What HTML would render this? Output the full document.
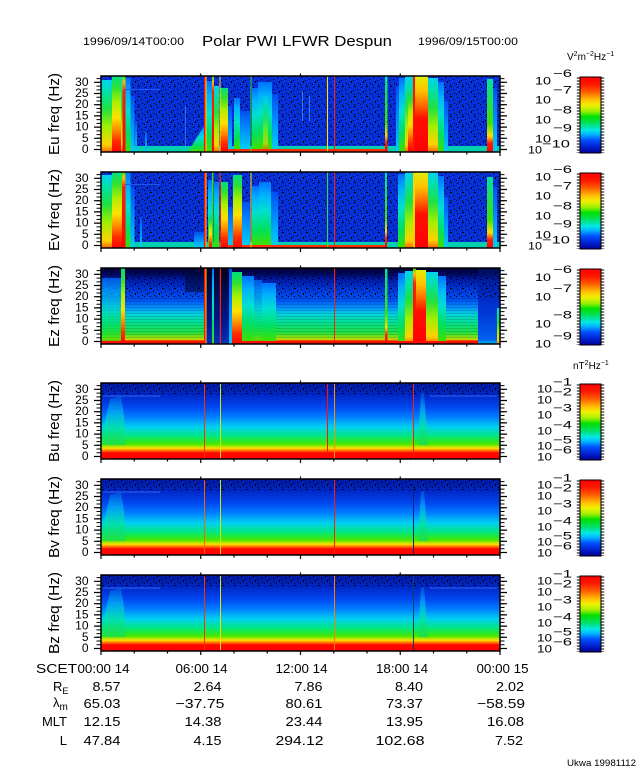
<!DOCTYPE html>
<html><head><meta charset="utf-8"><style>
html,body{margin:0;padding:0;background:#fff;}
svg{display:block;}
text{font-family:"Liberation Sans",Arial,sans-serif;fill:#000;}
</style></head><body>
<svg width="640" height="768" viewBox="0 0 640 768" xmlns="http://www.w3.org/2000/svg">
<defs>
<linearGradient id="gHot" x1="0" y1="1" x2="0" y2="0"><stop offset="0" stop-color="#ff0000"/><stop offset="0.15" stop-color="#ff3000"/><stop offset="0.3" stop-color="#ff9000"/><stop offset="0.45" stop-color="#ffe000"/><stop offset="0.65" stop-color="#b0f000"/><stop offset="0.85" stop-color="#30e030"/><stop offset="1" stop-color="#00e080"/></linearGradient>
<linearGradient id="gHot2" x1="0" y1="1" x2="0" y2="0"><stop offset="0" stop-color="#ff0000"/><stop offset="0.45" stop-color="#ff1000"/><stop offset="0.6" stop-color="#ff6000"/><stop offset="0.8" stop-color="#ffc000"/><stop offset="1" stop-color="#e0f000"/></linearGradient>
<linearGradient id="gWarm" x1="0" y1="1" x2="0" y2="0"><stop offset="0" stop-color="#ff6000"/><stop offset="0.1" stop-color="#ffd000"/><stop offset="0.35" stop-color="#a0f000"/><stop offset="0.6" stop-color="#20e040"/><stop offset="0.85" stop-color="#00e0b0"/><stop offset="1" stop-color="#00d0f0"/></linearGradient>
<linearGradient id="gCool" x1="0" y1="1" x2="0" y2="0"><stop offset="0" stop-color="#40e000"/><stop offset="0.25" stop-color="#00e060"/><stop offset="0.55" stop-color="#00e0d0"/><stop offset="0.8" stop-color="#00b0ff"/><stop offset="1" stop-color="#0070ff"/></linearGradient>
<linearGradient id="gFaint" x1="0" y1="1" x2="0" y2="0"><stop offset="0" stop-color="#00d0f0"/><stop offset="0.5" stop-color="#0090ff"/><stop offset="1" stop-color="#0050f0"/></linearGradient>
<linearGradient id="gLineG" x1="0" y1="1" x2="0" y2="0"><stop offset="0" stop-color="#ff0000"/><stop offset="0.12" stop-color="#ff2000"/><stop offset="0.22" stop-color="#ffe000"/><stop offset="0.4" stop-color="#40e000"/><stop offset="1" stop-color="#00e0a0"/></linearGradient>
<linearGradient id="gRedL" x1="0" y1="1" x2="0" y2="0"><stop offset="0" stop-color="#ff0000"/><stop offset="0.8" stop-color="#ff2000"/><stop offset="0.92" stop-color="#ffc000"/><stop offset="1" stop-color="#40e000"/></linearGradient>
<linearGradient id="gB" x1="0" y1="1" x2="0" y2="0"><stop offset="0" stop-color="#ff0000"/><stop offset="0.08" stop-color="#ff0800"/><stop offset="0.11" stop-color="#ff7000"/><stop offset="0.14" stop-color="#ffe000"/><stop offset="0.2" stop-color="#40e800"/><stop offset="0.3" stop-color="#00e880"/><stop offset="0.42" stop-color="#00d0f0"/><stop offset="0.55" stop-color="#0080ff"/><stop offset="0.68" stop-color="#0048f0"/><stop offset="0.84" stop-color="#0028c8"/><stop offset="1" stop-color="#0018a0"/></linearGradient>
<linearGradient id="gBump" x1="0" y1="1" x2="0" y2="0"><stop offset="0" stop-color="#20e040" stop-opacity="0.9"/><stop offset="0.35" stop-color="#00e0a0" stop-opacity="0.8"/><stop offset="0.7" stop-color="#00c8f0" stop-opacity="0.6"/><stop offset="1" stop-color="#0090ff" stop-opacity="0.3"/></linearGradient>
<linearGradient id="gEz" x1="0" y1="1" x2="0" y2="0"><stop offset="0" stop-color="#ff0000"/><stop offset="0.04" stop-color="#ff2000"/><stop offset="0.06" stop-color="#c0e000"/><stop offset="0.15" stop-color="#20e040"/><stop offset="0.3" stop-color="#00e0a0"/><stop offset="0.4" stop-color="#00d0e0"/><stop offset="0.48" stop-color="#0090ff"/><stop offset="0.58" stop-color="#0050f0"/><stop offset="0.75" stop-color="#0030d0"/><stop offset="0.86" stop-color="#0018a0"/><stop offset="0.92" stop-color="#000860"/><stop offset="1" stop-color="#000030"/></linearGradient>
<linearGradient id="gEzR" x1="0" y1="1" x2="0" y2="0"><stop offset="0" stop-color="#00c0f0"/><stop offset="0.06" stop-color="#0060f0"/><stop offset="0.4" stop-color="#0038d8"/><stop offset="0.8" stop-color="#0020b0"/><stop offset="1" stop-color="#000850"/></linearGradient>
<linearGradient id="gDark" x1="0" y1="1" x2="0" y2="0"><stop offset="0" stop-color="#0030c0"/><stop offset="0.3" stop-color="#001890"/><stop offset="1" stop-color="#000020"/></linearGradient>
<linearGradient id="gCbar" x1="0" y1="0" x2="0" y2="1"><stop offset="0" stop-color="#ff0000"/><stop offset="0.1" stop-color="#ff1800"/><stop offset="0.2" stop-color="#ff6000"/><stop offset="0.3" stop-color="#ffc000"/><stop offset="0.37" stop-color="#f0f000"/><stop offset="0.45" stop-color="#a0f000"/><stop offset="0.52" stop-color="#00e000"/><stop offset="0.62" stop-color="#00e070"/><stop offset="0.7" stop-color="#00e8e8"/><stop offset="0.76" stop-color="#00b0ff"/><stop offset="0.83" stop-color="#0050ff"/><stop offset="0.92" stop-color="#0020d0"/><stop offset="1" stop-color="#000090"/></linearGradient>
<pattern id="spk" width="12" height="10" patternUnits="userSpaceOnUse">
<rect x="1" y="1" width="1" height="1"/><rect x="6" y="0" width="2" height="1"/><rect x="9" y="3" width="1" height="1"/><rect x="3" y="5" width="1" height="2"/><rect x="10" y="7" width="1" height="1"/><rect x="6" y="8" width="1" height="1"/><rect x="0" y="8" width="1" height="1"/><rect x="5" y="4" width="1" height="1"/>
</pattern>
<pattern id="hstr" width="6" height="3" patternUnits="userSpaceOnUse"><rect x="0" y="0" width="6" height="1" fill="#000" opacity="0.14"/></pattern>
<g id="ax">
<rect x="101" y="0" width="399" height="76" fill="none" stroke="#000" stroke-width="1.5"/>
<line x1="98.5" y1="2.13" x2="98.5" y2="76" stroke="#000" stroke-width="4" stroke-dasharray="1 2.73"/>
<line x1="502.5" y1="2.13" x2="502.5" y2="76" stroke="#000" stroke-width="4" stroke-dasharray="1 2.73"/>
<path d="M94 73.5H101M94 62.3H101M94 51.1H101M94 39.9H101M94 28.7H101M94 17.5H101M94 6.3H101M500 73.5H507M500 62.3H507M500 51.1H507M500 39.9H507M500 28.7H507M500 17.5H507M500 6.3H507" stroke="#000" stroke-width="1.2" fill="none"/>
<path d="M101 76V80M134.25 76V78.5M167.5 76V78.5M200.75 76V80M234 76V78.5M267.25 76V78.5M300.5 76V80M333.75 76V78.5M367 76V78.5M400.25 76V80M433.5 76V78.5M466.75 76V78.5M500 76V80M200.75 0V-2.5M300.5 0V-2.5M400.25 0V-2.5" stroke="#000" stroke-width="1.2" fill="none"/>
</g>
<g id="cb">
<rect x="580" y="1" width="21" height="76" fill="url(#gCbar)" stroke="#000" stroke-width="1"/>
<line x1="578.3" y1="1.5" x2="578.3" y2="77" stroke="#000" stroke-width="3" stroke-dasharray="1 2"/>
<line x1="602.7" y1="1.5" x2="602.7" y2="77" stroke="#000" stroke-width="3" stroke-dasharray="1 2"/>
</g>
</defs>

<!-- Header -->
<text x="83" y="45" font-size="11" textLength="101" lengthAdjust="spacingAndGlyphs">1996/09/14T00:00</text>
<text x="202" y="46" font-size="15" textLength="190" lengthAdjust="spacingAndGlyphs">Polar PWI LFWR Despun</text>
<text x="418" y="45" font-size="11" textLength="100" lengthAdjust="spacingAndGlyphs">1996/09/15T00:00</text>
<text x="567" y="60" font-size="10">V<tspan font-size="7" dy="-4">2</tspan><tspan dy="4">m</tspan><tspan font-size="7" dy="-4">−2</tspan><tspan dy="4">Hz</tspan><tspan font-size="7" dy="-4">−1</tspan></text>
<text x="573" y="369" font-size="10">nT<tspan font-size="7" dy="-4">2</tspan><tspan dy="4">Hz</tspan><tspan font-size="7" dy="-4">−1</tspan></text>

<!-- ===== Eu panel ===== -->
<g transform="translate(0,76)">
<rect x="101" y="0" width="399" height="76" fill="#0830d8"/>
<rect x="101" y="0" width="399" height="76" fill="url(#spk)"/>
<rect x="101" y="70" width="399" height="6" fill="#00d0b0"/>
<rect x="228" y="73" width="157" height="3" fill="#ff3000"/>
<rect x="101" y="4" width="11" height="72" fill="url(#gWarm)"/>
<rect x="112" y="0" width="9" height="76" fill="url(#gHot)"/>
<rect x="121" y="0" width="2" height="76" fill="url(#gWarm)"/>
<rect x="122.5" y="0" width="3" height="76" fill="url(#gRedL)"/>
<rect x="125.5" y="2" width="5" height="74" fill="url(#gCool)"/>
<rect x="130.5" y="20" width="4" height="56" fill="url(#gFaint)"/>
<rect x="135" y="45" width="2" height="31" fill="url(#gFaint)"/>
<rect x="145" y="55" width="2" height="21" fill="url(#gFaint)"/>
<rect x="185" y="30" width="1" height="40" fill="#2070f0"/>
<rect x="125" y="13" width="35" height="1" fill="#1e58f0"/>
<polygon points="188,76 204,76 204,50 199,58 194,66" fill="url(#gCool)"/>
<rect x="204" y="0" width="1.5" height="76" fill="#ff1000"/>
<rect x="205.5" y="0" width="1" height="76" fill="#ffe000"/>
<rect x="206.5" y="5" width="5.5" height="71" fill="url(#gCool)"/>
<rect x="212" y="0" width="2" height="76" fill="url(#gRedL)"/>
<rect x="214" y="10" width="5" height="66" fill="url(#gWarm)"/>
<rect x="219.5" y="0" width="1" height="76" fill="#ffe000"/>
<rect x="220.5" y="12" width="7.5" height="64" fill="url(#gHot)"/>
<rect x="228" y="30" width="4" height="43" fill="url(#gFaint)"/>
<rect x="234" y="22" width="6" height="51" fill="url(#gCool)"/>
<rect x="240" y="35" width="10" height="38" fill="url(#gFaint)"/>
<rect x="250.5" y="0" width="1" height="76" fill="#30e020"/>
<rect x="252" y="12" width="6" height="61" fill="url(#gCool)"/>
<rect x="258" y="6" width="14" height="67" fill="url(#gCool)"/>
<rect x="263" y="20" width="5" height="53" fill="url(#gWarm)" opacity="0.6"/>
<rect x="272" y="18" width="6" height="55" fill="url(#gFaint)"/>
<rect x="302" y="15" width="1" height="30" fill="#2a7cf8"/>
<rect x="309" y="20" width="1" height="25" fill="#2a7cf8"/>
<rect x="327" y="0" width="1" height="76" fill="#ffe000"/>
<rect x="334" y="0" width="1" height="76" fill="#ff2000"/>
<rect x="385" y="0" width="2.5" height="76" fill="url(#gLineG)"/>
<rect x="396" y="10" width="3" height="66" fill="url(#gFaint)"/>
<rect x="399" y="2" width="6" height="74" fill="url(#gCool)"/>
<rect x="405" y="0" width="8" height="76" fill="url(#gWarm)"/>
<rect x="408" y="15" width="5" height="61" fill="url(#gHot)"/>
<rect x="413" y="0" width="2" height="76" fill="#ff1000"/>
<rect x="415" y="0" width="13" height="76" fill="url(#gHot2)"/>
<rect x="428" y="2" width="10" height="74" fill="url(#gWarm)"/>
<rect x="438" y="6" width="6" height="70" fill="url(#gCool)"/>
<rect x="444" y="25" width="4" height="51" fill="url(#gFaint)"/>
<rect x="487" y="3" width="6" height="73" fill="url(#gLineG)"/>
<rect x="493" y="12" width="4" height="64" fill="url(#gFaint)"/>
<use href="#ax"/>
<use href="#cb"/>
</g>

<!-- ===== Ev panel ===== -->
<g transform="translate(0,172)">
<rect x="101" y="0" width="399" height="76" fill="#0830d8"/>
<rect x="101" y="0" width="399" height="76" fill="url(#spk)"/>
<rect x="101" y="70" width="399" height="6" fill="#00d0b0"/>
<rect x="228" y="73" width="157" height="3" fill="#ff3000"/>
<rect x="101" y="3" width="11" height="73" fill="url(#gWarm)"/>
<rect x="112" y="0" width="10" height="76" fill="url(#gHot)"/>
<rect x="122" y="0" width="3.5" height="76" fill="url(#gRedL)"/>
<rect x="125.5" y="0" width="5" height="76" fill="url(#gCool)"/>
<rect x="130.5" y="15" width="4" height="61" fill="url(#gFaint)"/>
<rect x="140" y="45" width="2" height="31" fill="url(#gFaint)"/>
<rect x="125" y="12" width="35" height="1" fill="#1e58f0"/>
<rect x="194" y="60" width="10" height="16" fill="url(#gFaint)"/>
<rect x="204" y="0" width="1.5" height="76" fill="#ff1000"/>
<rect x="205.5" y="0" width="1" height="76" fill="#ffd000"/>
<rect x="208" y="8" width="4" height="68" fill="url(#gCool)"/>
<rect x="209" y="45" width="4" height="31" fill="url(#gHot)"/>
<rect x="212" y="0" width="1.5" height="76" fill="#30e020"/>
<rect x="214" y="10" width="5" height="66" fill="url(#gCool)"/>
<rect x="219.5" y="0" width="1.2" height="76" fill="#ff3000"/>
<rect x="221" y="10" width="7" height="66" fill="url(#gHot)"/>
<rect x="228" y="35" width="5" height="38" fill="url(#gFaint)"/>
<rect x="233" y="3" width="9" height="73" fill="url(#gHot)"/>
<rect x="242" y="30" width="8" height="43" fill="url(#gFaint)"/>
<rect x="250.5" y="0" width="1" height="76" fill="#ffe000"/>
<rect x="252" y="14" width="7" height="59" fill="url(#gCool)"/>
<rect x="259" y="10" width="12" height="63" fill="url(#gCool)"/>
<rect x="271" y="20" width="7" height="53" fill="url(#gFaint)"/>
<rect x="327" y="0" width="1" height="76" fill="#30e020"/>
<rect x="334" y="0" width="1" height="76" fill="#ff2000"/>
<rect x="385" y="0" width="2" height="76" fill="url(#gLineG)"/>
<rect x="398" y="2" width="7" height="74" fill="url(#gCool)"/>
<rect x="405" y="0" width="9" height="76" fill="url(#gWarm)"/>
<rect x="413" y="0" width="2" height="76" fill="#ffd000"/>
<rect x="415" y="0" width="13" height="76" fill="url(#gHot2)"/>
<rect x="428" y="0" width="10" height="76" fill="url(#gWarm)"/>
<rect x="438" y="4" width="6" height="72" fill="url(#gCool)"/>
<rect x="444" y="25" width="4" height="51" fill="url(#gFaint)"/>
<rect x="487" y="5" width="6" height="71" fill="url(#gLineG)"/>
<rect x="493" y="15" width="4" height="61" fill="url(#gFaint)"/>
<use href="#ax"/>
<use href="#cb"/>
</g>

<!-- ===== Ez panel ===== -->
<g transform="translate(0,268)">
<rect x="101" y="0" width="377" height="76" fill="url(#gEz)"/>
<rect x="478" y="0" width="22" height="76" fill="url(#gEzR)"/>
<rect x="101" y="0" width="399" height="30" fill="url(#spk)"/>
<rect x="101" y="28" width="377" height="42" fill="url(#hstr)"/>
<rect x="101" y="10" width="21" height="63" fill="url(#gCool)" opacity="0.7"/>
<rect x="121" y="0" width="4" height="76" fill="url(#gHot)"/>
<rect x="185" y="0" width="19" height="24" fill="#000830" opacity="0.55"/>
<rect x="204" y="0" width="1.5" height="76" fill="#ff1000"/>
<rect x="205.5" y="0" width="1" height="76" fill="#ffd000"/>
<rect x="206.5" y="0" width="5.5" height="76" fill="url(#gDark)"/>
<rect x="212" y="0" width="2" height="76" fill="url(#gCool)"/>
<rect x="214" y="0" width="15" height="76" fill="url(#gDark)"/>
<rect x="219.8" y="0" width="1.2" height="76" fill="#ff2000"/>
<rect x="229" y="0" width="3" height="76" fill="url(#gFaint)"/>
<rect x="232" y="4" width="10" height="72" fill="url(#gHot)"/>
<rect x="242" y="8" width="12" height="65" fill="url(#gCool)"/>
<rect x="254" y="12" width="8" height="61" fill="url(#gCool)" opacity="0.7"/>
<rect x="262" y="15" width="14" height="58" fill="url(#gCool)"/>
<rect x="334" y="0" width="1" height="76" fill="#ff2000"/>
<rect x="385" y="0" width="2.5" height="76" fill="url(#gLineG)"/>
<rect x="398" y="5" width="7" height="71" fill="url(#gCool)"/>
<rect x="405" y="3" width="8" height="73" fill="url(#gWarm)"/>
<rect x="413" y="0" width="3" height="76" fill="url(#gRedL)"/>
<rect x="416" y="2" width="10" height="74" fill="url(#gHot2)"/>
<rect x="426" y="4" width="12" height="72" fill="url(#gWarm)"/>
<rect x="438" y="8" width="8" height="65" fill="url(#gCool)"/>
<rect x="497" y="40" width="3" height="36" fill="url(#gWarm)"/>
<rect x="101" y="73" width="100" height="3" fill="#ff1000"/>
<rect x="232" y="73" width="246" height="3" fill="#ff1000"/>
<use href="#ax"/>
<use href="#cb"/>
</g>

<!-- ===== B panels ===== -->
<g transform="translate(0,383)">
<rect x="101" y="0" width="399" height="76" fill="url(#gB)"/>
<rect x="101" y="0" width="399" height="13" fill="url(#spk)"/>
<rect x="103" y="12.5" width="57" height="1" fill="#2a66f4"/>
<rect x="430" y="12.5" width="67" height="1" fill="#2a66f4"/>
<path d="M102,62 L105,38 L110,16 L121,13 L124,32 L126,62 Z" fill="url(#gBump)"/>
<path d="M418,62 L421,10 L424,10 L428,62 Z" fill="url(#gBump)"/>
<rect x="204" y="1" width="1" height="75" fill="#ff3000"/>
<rect x="220" y="1" width="1" height="75" fill="#d0e800"/>
<rect x="327" y="1" width="1" height="75" fill="#ff1000"/>
<rect x="334" y="1" width="1" height="75" fill="#ff9000"/>
<rect x="413" y="1" width="1" height="75" fill="#ff2000"/>
<use href="#ax"/>
<use href="#cb"/>
</g>
<g transform="translate(0,479)">
<rect x="101" y="0" width="399" height="76" fill="url(#gB)"/>
<rect x="101" y="0" width="399" height="13" fill="url(#spk)"/>
<rect x="103" y="12.5" width="57" height="1" fill="#2a66f4"/>
<path d="M102,62 L105,38 L110,16 L121,13 L124,32 L126,62 Z" fill="url(#gBump)"/>
<path d="M418,62 L421,12 L424,12 L428,62 Z" fill="url(#gBump)"/>
<rect x="204" y="1" width="1" height="75" fill="#ff6000"/>
<rect x="220" y="1" width="1" height="75" fill="#d0e800"/>
<rect x="334" y="1" width="1" height="75" fill="#ff2000"/>
<rect x="413" y="1" width="1" height="75" fill="#102080"/>
<use href="#ax"/>
<use href="#cb"/>
</g>
<g transform="translate(0,575)">
<rect x="101" y="0" width="399" height="76" fill="url(#gB)"/>
<rect x="101" y="0" width="399" height="13" fill="url(#spk)"/>
<rect x="103" y="12.5" width="57" height="1" fill="#2a66f4"/>
<rect x="430" y="12.5" width="67" height="1" fill="#2a66f4"/>
<path d="M102,62 L105,38 L110,16 L121,13 L124,32 L126,62 Z" fill="url(#gBump)"/>
<path d="M418,62 L421,12 L424,12 L428,62 Z" fill="url(#gBump)"/>
<rect x="204" y="1" width="1" height="75" fill="#ff3000"/>
<rect x="220" y="1" width="1" height="75" fill="#f0e000"/>
<rect x="334" y="1" width="1" height="75" fill="#ff8000"/>
<rect x="413" y="1" width="1" height="75" fill="#104060"/>
<use href="#ax"/>
<use href="#cb"/>
</g>

<!-- Y axis labels -->
<g font-size="15">
<text transform="translate(59,114) rotate(-90)" text-anchor="middle" textLength="82" lengthAdjust="spacingAndGlyphs">Eu freq (Hz)</text>
<text transform="translate(59,210) rotate(-90)" text-anchor="middle" textLength="82" lengthAdjust="spacingAndGlyphs">Ev freq (Hz)</text>
<text transform="translate(59,306) rotate(-90)" text-anchor="middle" textLength="82" lengthAdjust="spacingAndGlyphs">Ez freq (Hz)</text>
<text transform="translate(59,421) rotate(-90)" text-anchor="middle" textLength="82" lengthAdjust="spacingAndGlyphs">Bu freq (Hz)</text>
<text transform="translate(59,517) rotate(-90)" text-anchor="middle" textLength="82" lengthAdjust="spacingAndGlyphs">Bv freq (Hz)</text>
<text transform="translate(59,613) rotate(-90)" text-anchor="middle" textLength="82" lengthAdjust="spacingAndGlyphs">Bz freq (Hz)</text>
</g>

<!-- Tick labels -->
<g font-size="12" text-anchor="end">
<g transform="translate(0,76)"><text x="88.5" y="9.8">30</text><text x="88.5" y="21">25</text><text x="88.5" y="32.2">20</text><text x="88.5" y="43.4">15</text><text x="88.5" y="54.6">10</text><text x="88.5" y="65.8">5</text><text x="88.5" y="77">0</text></g>
<g transform="translate(0,172)"><text x="88.5" y="9.8">30</text><text x="88.5" y="21">25</text><text x="88.5" y="32.2">20</text><text x="88.5" y="43.4">15</text><text x="88.5" y="54.6">10</text><text x="88.5" y="65.8">5</text><text x="88.5" y="77">0</text></g>
<g transform="translate(0,268)"><text x="88.5" y="9.8">30</text><text x="88.5" y="21">25</text><text x="88.5" y="32.2">20</text><text x="88.5" y="43.4">15</text><text x="88.5" y="54.6">10</text><text x="88.5" y="65.8">5</text><text x="88.5" y="77">0</text></g>
<g transform="translate(0,383)"><text x="88.5" y="9.8">30</text><text x="88.5" y="21">25</text><text x="88.5" y="32.2">20</text><text x="88.5" y="43.4">15</text><text x="88.5" y="54.6">10</text><text x="88.5" y="65.8">5</text><text x="88.5" y="77">0</text></g>
<g transform="translate(0,479)"><text x="88.5" y="9.8">30</text><text x="88.5" y="21">25</text><text x="88.5" y="32.2">20</text><text x="88.5" y="43.4">15</text><text x="88.5" y="54.6">10</text><text x="88.5" y="65.8">5</text><text x="88.5" y="77">0</text></g>
<g transform="translate(0,575)"><text x="88.5" y="9.8">30</text><text x="88.5" y="21">25</text><text x="88.5" y="32.2">20</text><text x="88.5" y="43.4">15</text><text x="88.5" y="54.6">10</text><text x="88.5" y="65.8">5</text><text x="88.5" y="77">0</text></g>
</g>

<!-- Colorbar labels -->
<g font-size="11">
<g transform="translate(0,76)">
<text x="535" y="8.5" textLength="16" lengthAdjust="spacingAndGlyphs">10</text><text x="553" y="1" textLength="19" lengthAdjust="spacingAndGlyphs">−6</text>
<text x="535" y="27.5" textLength="16" lengthAdjust="spacingAndGlyphs">10</text><text x="553" y="17.5" textLength="19" lengthAdjust="spacingAndGlyphs">−7</text>
<text x="535" y="47.5" textLength="16" lengthAdjust="spacingAndGlyphs">10</text><text x="553" y="37.5" textLength="19" lengthAdjust="spacingAndGlyphs">−8</text>
<text x="535" y="66.5" textLength="16" lengthAdjust="spacingAndGlyphs">10</text><text x="553" y="55.5" textLength="19" lengthAdjust="spacingAndGlyphs">−9</text>
<text x="528" y="77.5" textLength="14" lengthAdjust="spacingAndGlyphs">10</text><text x="542" y="71.5" textLength="28" lengthAdjust="spacingAndGlyphs">−10</text>
</g>
<g transform="translate(0,172)">
<text x="535" y="8.5" textLength="16" lengthAdjust="spacingAndGlyphs">10</text><text x="553" y="1" textLength="19" lengthAdjust="spacingAndGlyphs">−6</text>
<text x="535" y="27.5" textLength="16" lengthAdjust="spacingAndGlyphs">10</text><text x="553" y="17.5" textLength="19" lengthAdjust="spacingAndGlyphs">−7</text>
<text x="535" y="47.5" textLength="16" lengthAdjust="spacingAndGlyphs">10</text><text x="553" y="37.5" textLength="19" lengthAdjust="spacingAndGlyphs">−8</text>
<text x="535" y="66.5" textLength="16" lengthAdjust="spacingAndGlyphs">10</text><text x="553" y="55.5" textLength="19" lengthAdjust="spacingAndGlyphs">−9</text>
<text x="528" y="77.5" textLength="14" lengthAdjust="spacingAndGlyphs">10</text><text x="542" y="71.5" textLength="28" lengthAdjust="spacingAndGlyphs">−10</text>
</g>
<g transform="translate(0,268)">
<text x="535" y="13" textLength="16" lengthAdjust="spacingAndGlyphs">10</text><text x="553" y="5" textLength="19" lengthAdjust="spacingAndGlyphs">−6</text>
<text x="535" y="32.5" textLength="16" lengthAdjust="spacingAndGlyphs">10</text><text x="553" y="24" textLength="19" lengthAdjust="spacingAndGlyphs">−7</text>
<text x="535" y="59.5" textLength="16" lengthAdjust="spacingAndGlyphs">10</text><text x="553" y="50.5" textLength="19" lengthAdjust="spacingAndGlyphs">−8</text>
<text x="535" y="79.5" textLength="16" lengthAdjust="spacingAndGlyphs">10</text><text x="553" y="71.5" textLength="19" lengthAdjust="spacingAndGlyphs">−9</text>
</g>
<g transform="translate(0,383)">
<text x="537" y="9.5" textLength="15" lengthAdjust="spacingAndGlyphs">10</text><text x="553" y="2.5" textLength="19" lengthAdjust="spacingAndGlyphs">−1</text>
<text x="537" y="20.5" textLength="15" lengthAdjust="spacingAndGlyphs">10</text><text x="553" y="12.5" textLength="19" lengthAdjust="spacingAndGlyphs">−2</text>
<text x="537" y="35.5" textLength="15" lengthAdjust="spacingAndGlyphs">10</text><text x="553" y="28.5" textLength="19" lengthAdjust="spacingAndGlyphs">−3</text>
<text x="537" y="51.5" textLength="15" lengthAdjust="spacingAndGlyphs">10</text><text x="553" y="45.5" textLength="19" lengthAdjust="spacingAndGlyphs">−4</text>
<text x="537" y="66.5" textLength="15" lengthAdjust="spacingAndGlyphs">10</text><text x="553" y="60.5" textLength="19" lengthAdjust="spacingAndGlyphs">−5</text>
<text x="537" y="77.5" textLength="15" lengthAdjust="spacingAndGlyphs">10</text><text x="553" y="70.5" textLength="19" lengthAdjust="spacingAndGlyphs">−6</text>
</g>
<g transform="translate(0,479)">
<text x="537" y="9.5" textLength="15" lengthAdjust="spacingAndGlyphs">10</text><text x="553" y="2.5" textLength="19" lengthAdjust="spacingAndGlyphs">−1</text>
<text x="537" y="20.5" textLength="15" lengthAdjust="spacingAndGlyphs">10</text><text x="553" y="12.5" textLength="19" lengthAdjust="spacingAndGlyphs">−2</text>
<text x="537" y="35.5" textLength="15" lengthAdjust="spacingAndGlyphs">10</text><text x="553" y="28.5" textLength="19" lengthAdjust="spacingAndGlyphs">−3</text>
<text x="537" y="51.5" textLength="15" lengthAdjust="spacingAndGlyphs">10</text><text x="553" y="45.5" textLength="19" lengthAdjust="spacingAndGlyphs">−4</text>
<text x="537" y="66.5" textLength="15" lengthAdjust="spacingAndGlyphs">10</text><text x="553" y="60.5" textLength="19" lengthAdjust="spacingAndGlyphs">−5</text>
<text x="537" y="77.5" textLength="15" lengthAdjust="spacingAndGlyphs">10</text><text x="553" y="70.5" textLength="19" lengthAdjust="spacingAndGlyphs">−6</text>
</g>
<g transform="translate(0,575)">
<text x="537" y="9.5" textLength="15" lengthAdjust="spacingAndGlyphs">10</text><text x="553" y="2.5" textLength="19" lengthAdjust="spacingAndGlyphs">−1</text>
<text x="537" y="20.5" textLength="15" lengthAdjust="spacingAndGlyphs">10</text><text x="553" y="12.5" textLength="19" lengthAdjust="spacingAndGlyphs">−2</text>
<text x="537" y="35.5" textLength="15" lengthAdjust="spacingAndGlyphs">10</text><text x="553" y="28.5" textLength="19" lengthAdjust="spacingAndGlyphs">−3</text>
<text x="537" y="51.5" textLength="15" lengthAdjust="spacingAndGlyphs">10</text><text x="553" y="45.5" textLength="19" lengthAdjust="spacingAndGlyphs">−4</text>
<text x="537" y="66.5" textLength="15" lengthAdjust="spacingAndGlyphs">10</text><text x="553" y="60.5" textLength="19" lengthAdjust="spacingAndGlyphs">−5</text>
<text x="537" y="77.5" textLength="15" lengthAdjust="spacingAndGlyphs">10</text><text x="553" y="70.5" textLength="19" lengthAdjust="spacingAndGlyphs">−6</text>
</g>
</g>

<!-- Bottom ephemeris -->
<g font-size="13">
<text x="36" y="673" textLength="41" lengthAdjust="spacingAndGlyphs">SCET</text>
<text x="103.5" y="673" text-anchor="middle" textLength="52" lengthAdjust="spacingAndGlyphs">00:00 14</text>
<text x="201.5" y="673" text-anchor="middle" textLength="52" lengthAdjust="spacingAndGlyphs">06:00 14</text>
<text x="301.5" y="673" text-anchor="middle" textLength="52" lengthAdjust="spacingAndGlyphs">12:00 14</text>
<text x="402" y="673" text-anchor="middle" textLength="52" lengthAdjust="spacingAndGlyphs">18:00 14</text>
<text x="502.5" y="673" text-anchor="middle" textLength="52" lengthAdjust="spacingAndGlyphs">00:00 15</text>

<text x="53" y="691">R<tspan font-size="9" dy="3">E</tspan></text>
<text x="53" y="707">λ<tspan font-size="10" dy="3">m</tspan></text>
<text x="67" y="726" text-anchor="end">MLT</text>
<text x="67" y="745" text-anchor="end">L</text>

<g text-anchor="end">
<text x="120.5" y="691" textLength="28" lengthAdjust="spacingAndGlyphs">8.57</text>
<text x="221.5" y="691" textLength="28" lengthAdjust="spacingAndGlyphs">2.64</text>
<text x="322.5" y="691" textLength="28" lengthAdjust="spacingAndGlyphs">7.86</text>
<text x="423" y="691" textLength="28" lengthAdjust="spacingAndGlyphs">8.40</text>
<text x="524" y="691" textLength="28" lengthAdjust="spacingAndGlyphs">2.02</text>

<text x="120.5" y="708" textLength="37" lengthAdjust="spacingAndGlyphs">65.03</text>
<text x="224.5" y="708" textLength="49" lengthAdjust="spacingAndGlyphs">−37.75</text>
<text x="322.5" y="708" textLength="37" lengthAdjust="spacingAndGlyphs">80.61</text>
<text x="423" y="708" textLength="37" lengthAdjust="spacingAndGlyphs">73.37</text>
<text x="525" y="708" textLength="48" lengthAdjust="spacingAndGlyphs">−58.59</text>

<text x="120.5" y="726" textLength="37" lengthAdjust="spacingAndGlyphs">12.15</text>
<text x="221.5" y="726" textLength="37" lengthAdjust="spacingAndGlyphs">14.38</text>
<text x="322.5" y="726" textLength="37" lengthAdjust="spacingAndGlyphs">23.44</text>
<text x="423" y="726" textLength="37" lengthAdjust="spacingAndGlyphs">13.95</text>
<text x="524" y="726" textLength="37" lengthAdjust="spacingAndGlyphs">16.08</text>

<text x="120.5" y="745" textLength="37" lengthAdjust="spacingAndGlyphs">47.84</text>
<text x="221.5" y="745" textLength="28" lengthAdjust="spacingAndGlyphs">4.15</text>
<text x="323.5" y="745" textLength="48" lengthAdjust="spacingAndGlyphs">294.12</text>
<text x="424.5" y="745" textLength="49" lengthAdjust="spacingAndGlyphs">102.68</text>
<text x="523" y="745" textLength="28" lengthAdjust="spacingAndGlyphs">7.52</text>
</g>
</g>
<text x="567" y="766" font-size="9" textLength="69" lengthAdjust="spacingAndGlyphs">Ukwa 19981112</text>
</svg>
</body></html>
